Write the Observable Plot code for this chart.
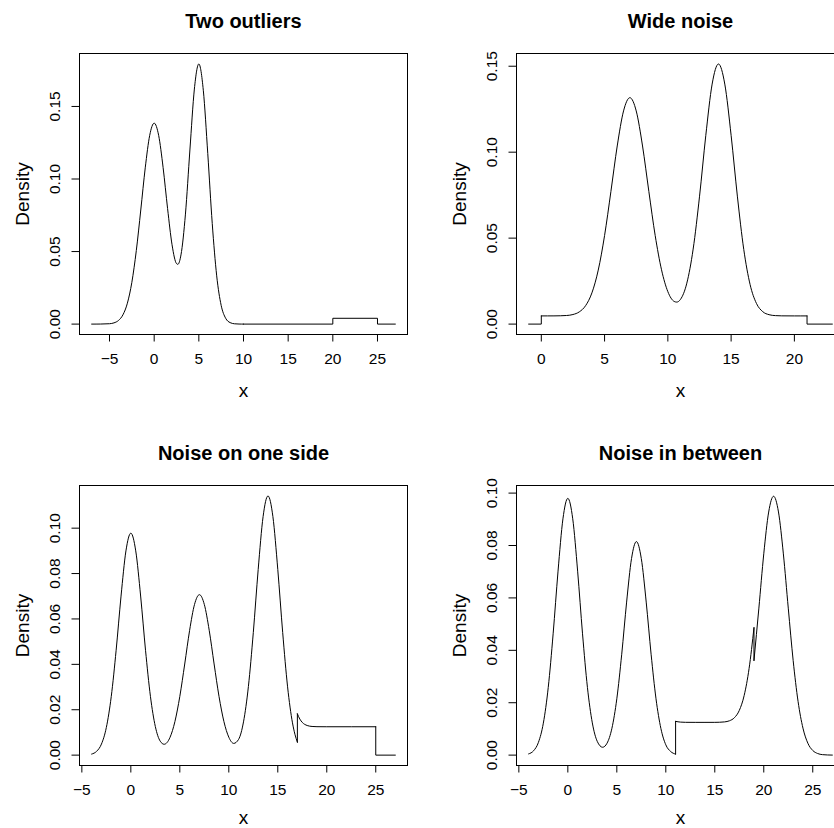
<!DOCTYPE html>
<html><head><meta charset="utf-8">
<script src="https://cdn.jsdelivr.net/npm/d3@7"></script>
<script src="https://cdn.jsdelivr.net/npm/@observablehq/plot@0.6"></script>
<style>
html,body{margin:0;padding:0;background:#fff;}
#wrap{position:relative;width:834px;height:828px;overflow:hidden;background:#fff;}
.panel{position:absolute;}
.panel svg{max-width:none !important;}
</style></head><body><div id="wrap"></div>
<script>
// ---------- Panel titles ----------
const titles = ["Two outliers", "Wide noise", "Noise on one side", "Noise in between"];

// ---------- Tick values and labels ----------
const p1XTicks = [-5, 0, 5, 10, 15, 20, 25];
const p1XLabels = ["\u22125", "0", "5", "10", "15", "20", "25"];
const p1YTicks = [0, 0.05, 0.10, 0.15];
const p1YLabels = ["0.00", "0.05", "0.10", "0.15"];

const p2XTicks = [0, 5, 10, 15, 20];
const p2XLabels = ["0", "5", "10", "15", "20"];
const p2YTicks = [0, 0.05, 0.10, 0.15];
const p2YLabels = ["0.00", "0.05", "0.10", "0.15"];

const p3XTicks = [-5, 0, 5, 10, 15, 20, 25];
const p3XLabels = ["\u22125", "0", "5", "10", "15", "20", "25"];
const p3YTicks = [0, 0.02, 0.04, 0.06, 0.08, 0.10];
const p3YLabels = ["0.00", "0.02", "0.04", "0.06", "0.08", "0.10"];

const p4XTicks = [-5, 0, 5, 10, 15, 20, 25];
const p4XLabels = ["\u22125", "0", "5", "10", "15", "20", "25"];
const p4YTicks = [0, 0.02, 0.04, 0.06, 0.08, 0.10];
const p4YLabels = ["0.00", "0.02", "0.04", "0.06", "0.08", "0.10"];

// ---------- Panel 1: Two outliers ----------
const p1CurveX = [-7,-6,-5,-4.5,-4,-3.5,-3,-2.5,-2,-1.5,-1,-0.5,0,0.5,1,1.5,2,2.5,2.65,3,3.5,4,4.5,5,5.5,6,6.5,7,7.5,8,8.5,9,9.5,10];
const p1CurveY = [0,0.00004,0.00026,0.00085,0.00248,0.00636,0.0144,0.02877,0.05065,0.07865,0.1077,0.1301,0.1385,0.1301,0.1079,0.0797,0.0547,0.0417,0.0412,0.0477,0.0758,0.1200,0.1620,0.1793,0.1612,0.1175,0.0694,0.03325,0.0129,0.00405,0.00103,0.00021,0.00004,0];
const p1StepX = [10,20,20,25,25,27];
const p1StepY = [0,0,0.004,0.004,0,0];

// ---------- Panel 2: Wide noise ----------
const p2StepAX = [-1,0,0];
const p2StepAY = [0,0,0.00476];
const p2CurveX = [0,1,2,2.5,3,3.5,4,4.5,5,5.5,6,6.5,7,7.5,8,8.5,9,9.5,10,10.5,10.7,11,11.5,12,12.5,13,13.5,14,14.5,15,15.5,16,16.5,17,17.5,18,18.5,19,20,21];
const p2CurveY = [0.00476,0.00478,0.00501,0.00557,0.0071,0.01071,0.01817,0.03141,0.0515,0.0771,0.1036,0.124,0.1317,0.124,0.1036,0.0771,0.0515,0.0316,0.01888,0.01318,0.0128,0.01439,0.02381,0.04363,0.07403,0.1098,0.1396,0.1513,0.1396,0.1098,0.0740,0.0434,0.0230,0.01205,0.00723,0.00547,0.00493,0.0048,0.00476,0.00476];
const p2StepBX = [21,21,23];
const p2StepBY = [0.00476,0,0];

// ---------- Panel 3: Noise on one side ----------
const p3CurveAX = [-4,-3.5,-3,-2.5,-2,-1.5,-1,-0.5,0,0.5,1,1.5,2,2.5,3,3.4,4,4.5,5,5.5,6,6.5,7,7.5,8,8.5,9,9.5,10,10.5,11,11.5,12,12.5,13,13.5,14,14.5,15,15.5,16,16.5,16.75,17];
const p3CurveAY = [0.00047,0.00165,0.00487,0.01218,0.02578,0.0462,0.07007,0.08998,0.0978,0.09,0.0701,0.0462,0.02591,0.01261,0.00614,0.00479,0.00783,0.0148,0.02588,0.04015,0.05498,0.06639,0.0707,0.0664,0.055,0.04016,0.02588,0.01481,0.0079,0.00517,0.00695,0.01465,0.03023,0.05398,0.08183,0.1051,0.1142,0.1051,0.0818,0.054,0.0301,0.01422,0.00918,0.00569];
const p3JumpX = [17,17];
const p3JumpY = [0.00569,0.01819];
const p3CurveBX = [17,17.25,17.5,18,18.5,19,20,25];
const p3CurveBY = [0.01819,0.01588,0.01442,0.01305,0.01263,0.01253,0.0125,0.0125];
const p3StepX = [25,25,27];
const p3StepY = [0.0125,0,0];

// ---------- Panel 4: Noise in between ----------
const p4CurveAX = [-4,-3.5,-3,-2.5,-2,-1.5,-1,-0.5,0,0.5,1,1.5,2,2.5,3,3.55,4,4.5,5,5.5,6,6.5,7,7.5,8,8.5,9,9.5,10,10.5,11];
const p4CurveAY = [0.00047,0.00165,0.00488,0.0122,0.02583,0.0463,0.07022,0.09016,0.098,0.0902,0.0702,0.0463,0.02585,0.0123,0.00527,0.003,0.00453,0.01026,0.0215,0.0385,0.0584,0.075,0.0815,0.075,0.0584,0.0385,0.0215,0.01015,0.00393,0.00137,0.00039];
const p4JumpAX = [11,11];
const p4JumpAY = [0.00039,0.01289];
const p4CurveBX = [11,11.5,12,13,14,15,15.5,16,16.5,17,17.5,18,18.5,19];
const p4CurveBY = [0.01289,0.0126,0.01252,0.0125,0.0125,0.01251,0.01255,0.01268,0.01311,0.01427,0.01704,0.02278,0.03302,0.04863];
const p4JumpBX = [19,19];
const p4JumpBY = [0.04863,0.03613];
const p4CurveCX = [19,19.5,20,20.5,21,21.5,22,22.5,23,23.5,24,24.5,25,25.5,26,27];
const p4CurveCY = [0.03613,0.05611,0.07683,0.09277,0.0988,0.0928,0.0768,0.0561,0.0361,0.0205,0.0103,0.00454,0.00177,0.00061,0.00018,0.00001];

// ---------- drawing ----------
const FONT = "'Liberation Sans', Arial, Helvetica, sans-serif";

function rows(segs) {
  const out = [];
  segs.forEach((s, k) => s[0].forEach((x, i) => out.push({x, y: s[1][i], seg: k})));
  return out;
}

function panel(cfg) {
  const svg = Plot.plot({
    width: cfg.width, height: cfg.height,
    marginTop: cfg.mt, marginBottom: cfg.mb, marginLeft: cfg.ml, marginRight: cfg.mr,
    style: {fontFamily: FONT, background: "transparent", color: "black", overflow: "visible", maxWidth: "none"},
    x: {domain: cfg.xDomain, label: null},
    y: {domain: cfg.yDomain, label: null},
    marks: [
      Plot.line(rows(cfg.smooth), {x: "x", y: "y", z: "seg", curve: "monotone-x", stroke: "black", strokeWidth: 1}),
      Plot.line(rows(cfg.steps), {x: "x", y: "y", z: "seg", stroke: "black", strokeWidth: 1}),
      Plot.frame({stroke: "black", strokeWidth: 1}),
      Plot.axisX(cfg.xTicks, {tickSize: 7.5, tickFormat: () => "", label: null, stroke: "black"}),
      Plot.axisY(cfg.yTicks, {tickSize: 7.5, tickFormat: () => "", label: null, stroke: "black"}),
      Plot.text(cfg.xTicks, {x: d => d, text: (d, i) => cfg.xLabels[i], frameAnchor: "bottom", dy: 25, fontSize: 15.5, lineAnchor: "middle", fill: "black"}),
      Plot.text(cfg.yTicks, {y: d => d, text: (d, i) => cfg.yLabels[i], frameAnchor: "left", dx: -24, rotate: -90, fontSize: 15.5, lineAnchor: "middle", textAnchor: "middle", fill: "black"}),
      Plot.text([cfg.title], {text: d => d, frameAnchor: "top", dy: -32, fontSize: 20, fontWeight: "bold", lineAnchor: "middle", fill: "black"}),
      Plot.text(["x"], {text: d => d, frameAnchor: "bottom", dy: cfg.xTitleDy, fontSize: 19, lineAnchor: "middle", fill: "black"}),
      Plot.text(["Density"], {text: d => d, frameAnchor: "left", dx: -57, rotate: -90, fontSize: 19, lineAnchor: "middle", textAnchor: "middle", fill: "black"})
    ]
  });
  const div = document.createElement("div");
  div.className = "panel";
  div.style.left = cfg.left + "px";
  div.style.top = cfg.top + "px";
  div.style.width = cfg.width + "px";
  div.style.height = cfg.height + "px";
  svg.style.width = cfg.width + "px";
  svg.style.height = cfg.height + "px";
  div.appendChild(svg);
  document.getElementById("wrap").appendChild(div);
}

panel({left: 0, top: 0, width: 417, height: 414, mt: 53, mb: 80, ml: 79, mr: 10, xTitleDy: 56.5,
  xDomain: [-8.36, 28.36], yDomain: [-0.00717, 0.1865],
  xTicks: p1XTicks, xLabels: p1XLabels, yTicks: p1YTicks, yLabels: p1YLabels, title: titles[0],
  smooth: [[p1CurveX, p1CurveY]], steps: [[p1StepX, p1StepY]]});

panel({left: 417, top: 0, width: 440, height: 414, mt: 53, mb: 80, ml: 99, mr: 13, xTitleDy: 56.5,
  xDomain: [-1.96, 23.96], yDomain: [-0.00605, 0.1574],
  xTicks: p2XTicks, xLabels: p2XLabels, yTicks: p2YTicks, yLabels: p2YLabels, title: titles[1],
  smooth: [[p2CurveX, p2CurveY]], steps: [[p2StepAX, p2StepAY], [p2StepBX, p2StepBY]]});

panel({left: 0, top: 414, width: 417, height: 414, mt: 71, mb: 63, ml: 79, mr: 10, xTitleDy: 52.5,
  xDomain: [-5.24, 28.24], yDomain: [-0.00457, 0.1188],
  xTicks: p3XTicks, xLabels: p3XLabels, yTicks: p3YTicks, yLabels: p3YLabels, title: titles[2],
  smooth: [[p3CurveAX, p3CurveAY], [p3CurveBX, p3CurveBY]], steps: [[p3JumpX, p3JumpY], [p3StepX, p3StepY]]});

panel({left: 417, top: 414, width: 440, height: 414, mt: 71, mb: 63, ml: 99, mr: 13, xTitleDy: 52.5,
  xDomain: [-5.24, 28.24], yDomain: [-0.00396, 0.1029],
  xTicks: p4XTicks, xLabels: p4XLabels, yTicks: p4YTicks, yLabels: p4YLabels, title: titles[3],
  smooth: [[p4CurveAX, p4CurveAY], [p4CurveBX, p4CurveBY], [p4CurveCX, p4CurveCY]],
  steps: [[p4JumpAX, p4JumpAY], [p4JumpBX, p4JumpBY]]});
</script>
</body></html>
